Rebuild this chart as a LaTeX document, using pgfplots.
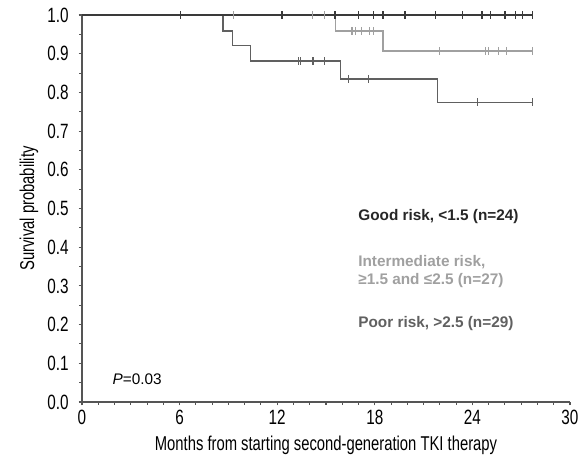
\documentclass[border=0pt]{standalone}
\usepackage{pgfplots}
\pgfplotsset{compat=1.18}
\usepackage{fontspec}
\setmainfont{Liberation Sans}
\newfontfamily\condfont[FakeStretch=0.74]{Liberation Sans}
\newfontfamily\legfont{Liberation Sans}
\definecolor{cgood}{HTML}{3A3A3A}
\definecolor{cint}{HTML}{A0A0A0}
\definecolor{cpoor}{HTML}{606060}
\definecolor{axcol}{HTML}{555555}
\begin{document}
\begin{tikzpicture}
\begin{axis}[
  name=ax,
  scale only axis,
  width=366pt, height=290.25pt,
  xmin=0, xmax=30, ymin=0, ymax=1,
  axis x line*=bottom, axis y line*=left,
  axis line style={axcol, line width=1pt, -},
  xtick={0,6,...,30}, ytick={0,0.1,...,1.0},
  minor x tick num=5, minor y tick num=1,
  tick align=outside, tick style={axcol, line width=0.8pt},
  major tick length=2.5pt, minor tick length=2pt,
  /pgf/number format/assume math mode=true,
  yticklabel style={/pgf/number format/fixed, /pgf/number format/fixed zerofill, /pgf/number format/precision=1, font=\fontsize{15.5}{15.5}\condfont, xshift=-4pt},
  xticklabel style={font=\fontsize{15.5}{15.5}\condfont},
  xlabel={Months from starting second-generation TKI therapy},
  ylabel={Survival probability},
  xlabel style={font=\fontsize{15}{15}\condfont, yshift=-2pt},
  ylabel style={font=\fontsize{15}{15}\condfont},
  clip=false,
]
% Intermediate
\addplot[cint, line width=1pt, const plot] coordinates {(0,1) (15.6,0.959) (18.5,0.907) (27.7,0.907)};
\addplot[cint, only marks, mark=|, mark size=3pt, mark options={line width=0.8pt}] coordinates {
(16.6,0.959) (16.8,0.959) (17.2,0.959) (17.7,0.959) (17.9,0.959)
(22.0,0.907) (24.8,0.907) (25.0,0.907) (25.6,0.907) (26.1,0.907) (27.7,0.907)};
% Poor
\addplot[cpoor, line width=1pt, const plot] coordinates {(0,1) (8.67,0.959) (9.26,0.921) (10.37,0.881) (15.9,0.835) (21.86,0.774) (27.7,0.774)};
\addplot[cpoor, only marks, mark=|, mark size=3pt, mark options={line width=0.8pt}] coordinates {
(13.3,0.881) (13.45,0.881) (14.15,0.881) (14.25,0.881) (14.9,0.881)
(16.4,0.835) (17.6,0.835) (24.3,0.774) (27.7,0.774)};
% Good risk
\addplot[cgood, line width=1pt, const plot] coordinates {(0,1) (27.7,1)};
\addplot[cint, only marks, mark=|, mark size=3pt, mark options={line width=0.8pt}] coordinates {
(9.3,1) (14.15,1) (14.9,1)};
\addplot[cgood, only marks, mark=|, mark size=3pt, mark options={line width=1pt}] coordinates {
(6.07,1) (12.3,1) (15.55,1) (17.0,1) (17.9,1) (18.5,1) (19.85,1) (21.75,1) (23.4,1) (24.6,1) (25.1,1) (26.0,1) (26.65,1) (27.06,1) (27.7,1)};
\node[anchor=west, font=\fontsize{11.5}{13.5}\legfont\bfseries, text=black!85] at (axis cs:16.7,0.478) {Good risk, <1.5 (n=24)};
\node[anchor=west, align=left, font=\fontsize{11.5}{13.5}\legfont\bfseries, text=cint] at (axis cs:16.7,0.338) {Intermediate risk,\\≥1.5 and ≤2.5 (n=27)};
\node[anchor=west, font=\fontsize{11.5}{13.5}\legfont\bfseries, text=cpoor] at (axis cs:16.7,0.2016) {Poor risk, >2.5 (n=29)};
\node[anchor=west, font=\fontsize{11.5}{13.5}\legfont] at (axis cs:1.6,0.059) {\textit{P}=0.03};
\end{axis}
\pgfresetboundingbox
\path ([shift={(-61.5pt,-45pt)}]ax.south west) rectangle ([shift={(9pt,11.25pt)}]ax.north east);
\end{tikzpicture}
\end{document}
